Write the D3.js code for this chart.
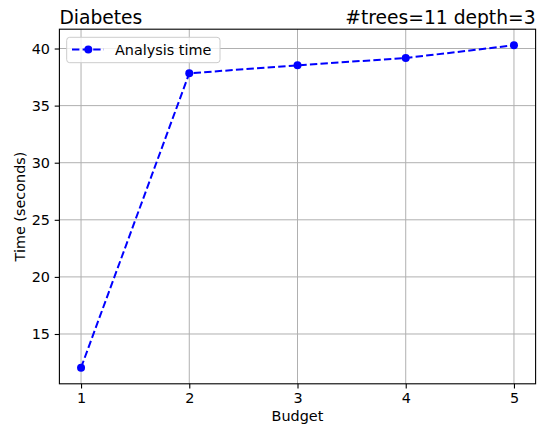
<!DOCTYPE html>
<html><head><meta charset="utf-8">
<script src="https://cdn.jsdelivr.net/npm/d3@7"></script>
<style>body{margin:0;background:#fff}text{font-family:"DejaVu Sans",sans-serif;fill:#000}</style>
</head><body><svg id="c" width="545" height="428"></svg>
<script>
const budgets = [1, 2, 3, 4, 5];
const analysisTime = [12.05, 37.83, 38.53, 39.17, 40.28];
const xTicks = [1, 2, 3, 4, 5];
const yTicks = [15, 20, 25, 30, 35, 40];
const titleLeft = "Diabetes";
const titleRight = "#trees=11 depth=3";
const seriesName = "Analysis time";

const svg = d3.select("#c");
const L = 59.4, R = 535.6, T = 29.2, B = 383.8;
const x = d3.scaleLinear().domain([0.8, 5.2]).range([L, R]);
const ymin = d3.min(analysisTime), ymax = d3.max(analysisTime), m = (ymax - ymin) * 0.05;
const y = d3.scaleLinear().domain([ymin - m, ymax + m]).range([B, T]);

// grid
svg.append("g").selectAll("line.gx").data(xTicks).join("line")
  .attr("x1", d => x(d)).attr("x2", d => x(d)).attr("y1", T).attr("y2", B)
  .attr("stroke", "#b0b0b0").attr("stroke-width", 1);
svg.append("g").selectAll("line.gy").data(yTicks).join("line")
  .attr("y1", d => y(d)).attr("y2", d => y(d)).attr("x1", L).attr("x2", R)
  .attr("stroke", "#b0b0b0").attr("stroke-width", 1);

// axes
const xa = svg.append("g").attr("transform", `translate(0,${B})`)
  .call(d3.axisBottom(x).tickValues(xTicks).tickSize(4.7).tickPadding(4.7).tickFormat(d3.format("d")));
const ya = svg.append("g").attr("transform", `translate(${L},0)`)
  .call(d3.axisLeft(y).tickValues(yTicks).tickSize(4.7).tickPadding(4.7).tickFormat(d3.format("d")));
[xa, ya].forEach(a => {
  a.select(".domain").remove();
  a.selectAll("line").attr("stroke", "#000").attr("stroke-width", 1.1);
  a.selectAll("text").attr("font-size", "14.4px").attr("font-family", "DejaVu Sans").attr("fill", "#000");
});
// frame
svg.append("rect").attr("x", L).attr("y", T).attr("width", R - L).attr("height", B - T)
  .attr("fill", "none").attr("stroke", "#000").attr("stroke-width", 1.1);

// line
const pts = budgets.map((b, i) => [b, analysisTime[i]]);
svg.append("path").datum(pts)
  .attr("d", d3.line().x(d => x(d[0])).y(d => y(d[1])))
  .attr("fill", "none").attr("stroke", "#0000ff").attr("stroke-width", 2)
  .attr("stroke-dasharray", "7.4,3.2");
svg.append("g").selectAll("circle").data(pts).join("circle")
  .attr("cx", d => x(d[0])).attr("cy", d => y(d[1])).attr("r", 4).attr("fill", "#0000ff");

// titles
svg.append("text").attr("x", L).attr("y", 24).attr("font-size", "18.7px").text(titleLeft);
svg.append("text").attr("x", R).attr("y", 24).attr("font-size", "18.7px").attr("text-anchor", "end").text(titleRight);
svg.append("text").attr("x", (L + R) / 2).attr("y", 421).attr("font-size", "14.4px").attr("text-anchor", "middle").text("Budget");
svg.append("text").attr("transform", `translate(25,${(T + B) / 2}) rotate(-90)`).attr("font-size", "14.4px")
  .attr("text-anchor", "middle").text("Time (seconds)");

// legend
const lg = svg.append("g");
lg.append("rect").attr("x", 66.7).attr("y", 37.3).attr("width", 153.3).attr("height", 25.4).attr("rx", 3)
  .attr("fill", "#fff").attr("fill-opacity", 0.8).attr("stroke", "#cccccc").attr("stroke-width", 1);
lg.append("line").attr("x1", 72).attr("x2", 104).attr("y1", 49.5).attr("y2", 49.5)
  .attr("stroke", "#0000ff").attr("stroke-width", 2).attr("stroke-dasharray", "7.4,3.2");
lg.append("circle").attr("cx", 88.3).attr("cy", 49.5).attr("r", 4).attr("fill", "#0000ff");
lg.append("text").attr("x", 115).attr("y", 54.6).attr("font-size", "14.4px").text(seriesName);
</script></body></html>
